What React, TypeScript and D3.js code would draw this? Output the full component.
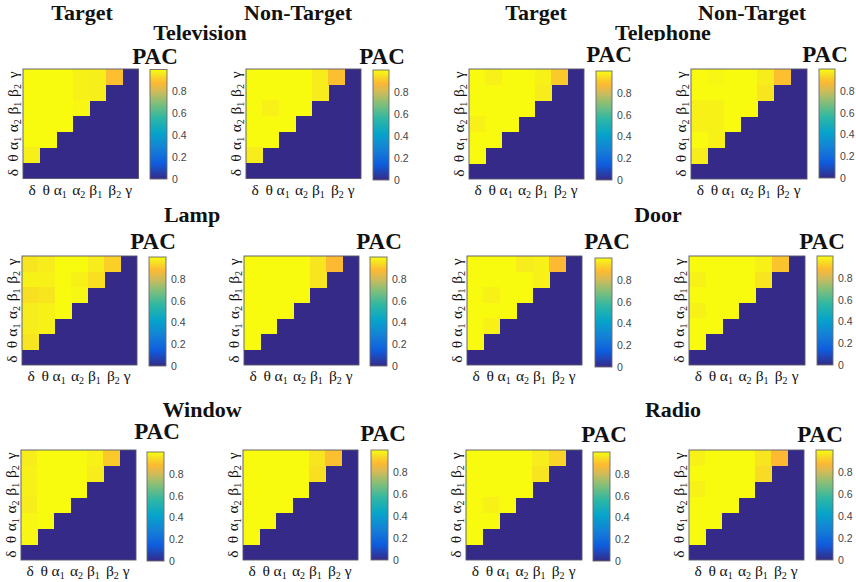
import React from "react";
import * as d3 from "d3";

// Rows run top (gamma) to bottom (theta), columns run left (delta) to right.
const xBands = ["δ", "θ", "α1", "α2", "β1", "β2", "γ"];
const colorbarTicks = [0, 0.2, 0.4, 0.6, 0.8];

const televisionTarget = [[1, 1, 1, 0.98, 0.975, 0.89], [1, 1, 1, 0.98, 0.975], [1, 1, 1, 0.99], [1, 1, 1], [1, 1], [0.975]];
const televisionNon = [[1, 1, 1, 1, 0.97, 0.89], [1, 1, 1, 1, 0.97], [1, 0.98, 1, 1], [1, 1, 1], [1, 1], [0.97]];
const telephoneTarget = [[1, 0.98, 1, 1, 0.98, 0.91], [1, 1, 1, 1, 0.97], [1, 1, 1, 1], [0.98, 1, 1], [1, 1], [1]];
const telephoneNon = [[1, 0.99, 1, 1, 0.97, 0.89], [1, 1, 1, 1, 0.96], [0.98, 0.98, 1, 1], [0.98, 0.98, 1], [1, 0.98], [0.97]];
const lampTarget = [[0.96, 0.97, 1, 1, 0.97, 0.92], [0.98, 0.98, 1, 0.98, 0.95], [0.95, 0.96, 1, 0.99], [0.97, 0.98, 1], [0.97, 0.98], [0.96]];
const lampNon = [[1, 1, 1, 1, 0.96, 0.88], [1, 1, 1, 1, 0.96], [1, 1, 1, 1], [1, 1, 1], [1, 1], [1]];
const doorTarget = [[1, 1, 1, 0.97, 0.98, 0.88], [1, 1, 1, 1, 0.98], [1, 0.98, 1, 1], [1, 1, 1], [1, 0.98], [1]];
const doorNon = [[1, 1, 1, 1, 0.98, 0.9], [0.98, 1, 1, 1, 0.96], [1, 1, 1, 1], [0.98, 1, 1], [1, 1], [1]];
const windowTarget = [[0.97, 1, 1, 1, 0.98, 0.91], [0.98, 1, 1, 1, 0.97], [0.98, 1, 1, 1], [0.97, 1, 1], [0.99, 1], [0.99]];
const windowNon = [[1, 1, 1, 1, 0.96, 0.89], [1, 1, 1, 1, 0.95], [1, 1, 1, 1], [1, 1, 1], [1, 1], [1]];
const radioTarget = [[1, 1, 1, 1, 0.97, 0.93], [1, 1, 1, 1, 0.96], [1, 1, 1, 1], [1, 0.98, 1], [1, 1], [1]];
const radioNon = [[0.98, 1, 1, 1, 0.96, 0.88], [1, 1, 1, 1, 0.94], [0.98, 1, 1, 1], [1, 1, 1], [1, 1], [1]];

const parulaStops = [0, 0.14, 0.28, 0.42, 0.56, 0.7, 0.8, 0.88, 0.93, 0.97, 1];
const parulaColors = ["#352a87", "#0f5cdd", "#1481d6", "#06a4ca", "#2eb7a4", "#87bf77", "#d1bb59", "#fdb932", "#f8d526", "#f7ec1c", "#f9fb0e"];
const color = d3.scaleLinear<string>().domain(parulaStops).range(parulaColors).clamp(true);

// Layout only: plot box [x0,x1,y0,y1], colorbar box [x0,x1,y0,y1], PAC label [x,baseline].
const panels = [
  { data: televisionTarget, plot: [23, 138.5, 69, 178.5], bar: [150, 167, 69.5, 179], pac: [155, 64] },
  { data: televisionNon, plot: [246, 361, 69, 178.5], bar: [373, 389, 70, 180], pac: [382, 64] },
  { data: telephoneTarget, plot: [469, 584, 69, 179], bar: [596, 612, 71, 180], pac: [609, 62] },
  { data: telephoneNon, plot: [691, 807, 69, 179], bar: [819, 835, 69, 178], pac: [825, 62] },
  { data: lampTarget, plot: [22, 137, 256, 365], bar: [149, 166, 257, 366], pac: [153, 249] },
  { data: lampNon, plot: [244, 359, 256, 365], bar: [370, 387, 257, 366], pac: [379, 249] },
  { data: doorTarget, plot: [467, 582, 256, 365], bar: [595, 612, 258, 367], pac: [607, 249] },
  { data: doorNon, plot: [689, 805, 256, 365], bar: [817, 833, 256, 365], pac: [822, 249] },
  { data: windowTarget, plot: [21, 136, 450, 560], bar: [147, 164, 452, 561], pac: [157, 439] },
  { data: windowNon, plot: [243, 358, 450, 560], bar: [371, 388, 450, 560], pac: [383, 441] },
  { data: radioTarget, plot: [466, 582, 450, 560], bar: [593, 610, 452, 561], pac: [604, 442] },
  { data: radioNon, plot: [689, 804, 450, 560], bar: [816, 833, 450, 560], pac: [820, 442] },
];

const headings = [
  { text: "Target", x: 82, y: 20 },
  { text: "Non-Target", x: 298, y: 20 },
  { text: "Target", x: 536, y: 19.7 },
  { text: "Non-Target", x: 752, y: 19.7 },
  { text: "Television", x: 200, y: 40 },
  { text: "Telephone", x: 663, y: 40 },
  { text: "Lamp", x: 192, y: 222 },
  { text: "Door", x: 658, y: 222 },
  { text: "Window", x: 202, y: 417 },
  { text: "Radio", x: 673, y: 417 },
];

const serif = "'Liberation Serif', serif";
const xNudge = [1, -1.5, -4, -2, -1.5, 1, -1.5];
const yNudge = [2, 3, 4, 2, 0, -2, -2];

function Tick({ label }: { label: string }) {
  const base = label[0];
  const sub = label.slice(1);
  return (
    <>
      <tspan>{base}</tspan>
      {sub && <tspan fontSize={10} dy={3}>{sub}</tspan>}
    </>
  );
}

function Panel({ p, idx }: { p: (typeof panels)[number]; idx: number }) {
  const [x0, x1, y0, y1] = p.plot;
  const [bx0, bx1, by0, by1] = p.bar;
  const xs = d3.scaleBand<string>().domain(xBands).range([x0, x1]);
  const ys = d3.scaleBand<string>().domain([...xBands].reverse()).range([y0, y1]);
  const by = d3.scaleLinear().domain([0, 1]).range([by1, by0]);
  const gradId = `parula-${idx}`;
  const rev = [...xBands].reverse();
  return (
    <g>
      <defs>
        <linearGradient id={gradId} x1="0" y1="1" x2="0" y2="0">
          {parulaStops.map((s, i) => (
            <stop key={i} offset={s} stopColor={parulaColors[i]} />
          ))}
        </linearGradient>
      </defs>
      <rect x={x0} y={y0} width={x1 - x0} height={y1 - y0} fill={color(0)} />
      {p.data.map((row, r) =>
        row.map((v, c) => (
          <rect
            key={`${r}-${c}`}
            x={xs(xBands[c])}
            y={ys(rev[r])}
            width={xs.bandwidth() + 0.5}
            height={ys.bandwidth() + 0.5}
            fill={color(v)}
            shapeRendering="crispEdges"
          />
        ))
      )}
      <rect x={x0} y={y0} width={x1 - x0} height={y1 - y0} fill="none" stroke="#55556a" strokeWidth={0.9} />
      {xBands.map((b, i) => (
        <text
          key={b}
          x={xs(b)! + xs.bandwidth() / 2 + xNudge[i]}
          y={y1 + 16}
          textAnchor="middle"
          fontFamily={serif}
          fontSize={15.5}
          fill="#111"
        >
          <Tick label={b} />
        </text>
      ))}
      {xBands.map((b, i) => (
        <text
          key={b}
          transform={`translate(${x0 - 5},${ys(b)! + ys.bandwidth() / 2 + yNudge[i]}) rotate(-90)`}
          textAnchor="middle"
          fontFamily={serif}
          fontSize={15.5}
          fill="#111"
        >
          <Tick label={b} />
        </text>
      ))}
      <rect x={bx0} y={by0} width={bx1 - bx0} height={by1 - by0} fill={`url(#${gradId})`} stroke="#6a6a6a" strokeWidth={0.9} />
      {colorbarTicks.map((t) => (
        <text
          key={t}
          x={bx1 + 5}
          y={by(t) + 4}
          fontFamily="'Liberation Sans', sans-serif"
          fontSize={10.5}
          fill="#444"
        >
          {t}
        </text>
      ))}
      <text x={p.pac[0]} y={p.pac[1]} textAnchor="middle" fontFamily={serif} fontWeight="bold" fontSize={23} fill="#111">
        PAC
      </text>
    </g>
  );
}

export default function App() {
  return (
    <svg width={856} height={582} style={{ position: "absolute", left: 0, top: 0, background: "#fff" }}>
      {headings.map((h, i) => (
        <text key={i} x={h.x} y={h.y} textAnchor="middle" fontFamily={serif} fontWeight="bold" fontSize={22} fill="#111">
          {h.text}
        </text>
      ))}
      <rect x={600} y={41} width={130} height={8} fill="#fff" />
      {panels.map((p, i) => (
        <Panel key={i} p={p} idx={i} />
      ))}
    </svg>
  );
}
